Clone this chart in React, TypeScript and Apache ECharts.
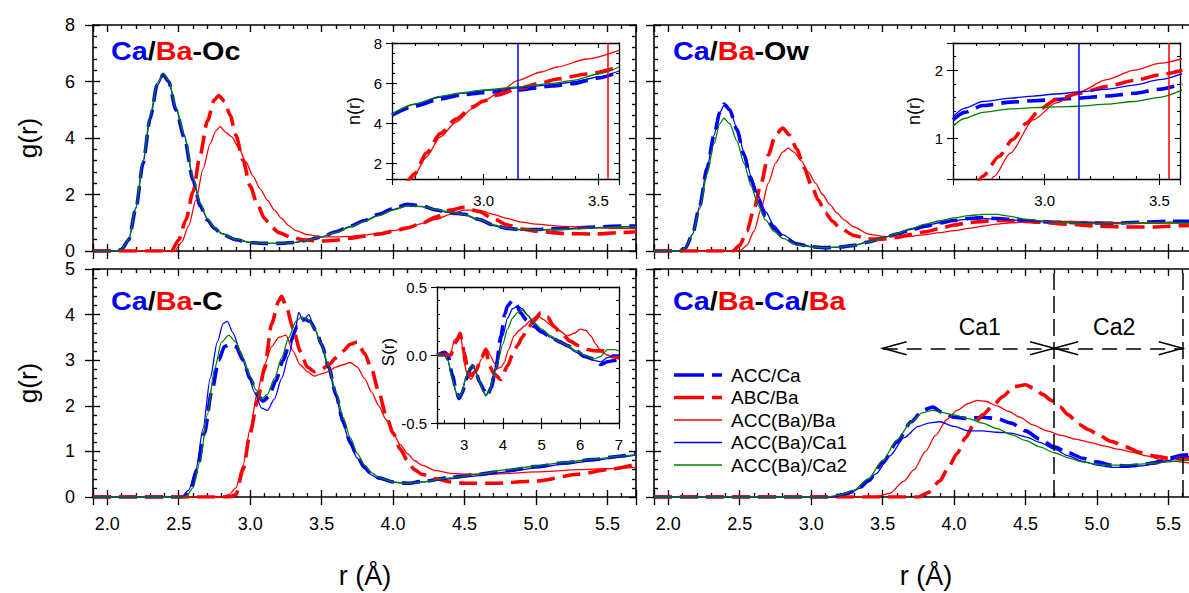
import React, { useEffect, useRef } from "react";
import * as echarts from "echarts";

const FONT = '"Liberation Sans", Arial, Helvetica, sans-serif';
const BLUE = "#0000ff";
const RED = "#ff0000";
const GREEN = "#008000";
const INK = "#000000";

const seriesNames = ["ACC/Ca", "ABC/Ba", "ACC(Ba)/Ba", "ACC(Ba)/Ca1", "ACC(Ba)/Ca2"];
const seriesColors = [BLUE, RED, RED, BLUE, GREEN];
const seriesDashed = [true, true, false, false, false];

// ---------- Panel Ca/Ba-Oc : g(r) ----------
const ocAccCaR = [1.9, 2.05, 2.1, 2.15, 2.2, 2.25, 2.3, 2.35, 2.39, 2.43, 2.48, 2.54, 2.6, 2.65, 2.7, 2.75, 2.8, 2.9, 3.0, 3.1, 3.2, 3.3, 3.4, 3.5, 3.6, 3.7, 3.8, 3.9, 4.0, 4.1, 4.2, 4.3, 4.4, 4.5, 4.6, 4.7, 4.8, 4.9, 5.0, 5.2, 5.4, 5.6, 5.7];
const ocAccCaG = [0, 0, 0.05, 0.4, 1.5, 3.1, 4.7, 5.9, 6.25, 6.0, 5.0, 4.0, 2.5, 1.6, 1.1, 0.8, 0.6, 0.4, 0.3, 0.27, 0.27, 0.3, 0.38, 0.5, 0.68, 0.88, 1.08, 1.3, 1.5, 1.65, 1.6, 1.45, 1.35, 1.3, 1.12, 0.92, 0.8, 0.76, 0.76, 0.8, 0.85, 0.88, 0.88];
const ocAbcBaR = [1.9, 2.45, 2.5, 2.55, 2.6, 2.65, 2.7, 2.75, 2.78, 2.82, 2.86, 2.9, 2.95, 3.0, 3.05, 3.1, 3.15, 3.2, 3.3, 3.4, 3.5, 3.6, 3.7, 3.8, 3.9, 4.0, 4.1, 4.2, 4.3, 4.4, 4.5, 4.6, 4.7, 4.8, 4.9, 5.0, 5.2, 5.4, 5.6, 5.7];
const ocAbcBaG = [0, 0, 0.4, 1.1, 2.1, 3.4, 4.6, 5.35, 5.5, 5.3, 4.8, 4.1, 3.2, 2.3, 1.65, 1.15, 0.85, 0.65, 0.45, 0.38, 0.35, 0.38, 0.45, 0.52, 0.6, 0.7, 0.82, 0.98, 1.2, 1.45, 1.55, 1.4, 1.15, 0.92, 0.78, 0.7, 0.62, 0.6, 0.65, 0.68];
const ocBaBaR = [1.9, 2.47, 2.52, 2.57, 2.62, 2.67, 2.72, 2.76, 2.79, 2.83, 2.87, 2.92, 2.97, 3.02, 3.07, 3.12, 3.17, 3.22, 3.27, 3.32, 3.4, 3.5, 3.6, 3.7, 3.8, 3.9, 4.0, 4.1, 4.2, 4.3, 4.4, 4.5, 4.6, 4.7, 4.8, 4.9, 5.0, 5.2, 5.4, 5.6, 5.7];
const ocBaBaG = [0, 0, 0.3, 0.9, 1.8, 2.9, 3.8, 4.25, 4.4, 4.2, 4.05, 3.65, 3.15, 2.65, 2.2, 1.8, 1.45, 1.15, 0.9, 0.72, 0.58, 0.5, 0.5, 0.52, 0.57, 0.63, 0.72, 0.83, 0.97, 1.12, 1.3, 1.45, 1.45, 1.3, 1.15, 1.02, 0.95, 0.87, 0.83, 0.8, 0.8];
const ocBaCa1G = [0, 0, 0.05, 0.4, 1.5, 3.1, 4.7, 5.85, 6.2, 6.0, 5.05, 4.05, 2.55, 1.65, 1.12, 0.82, 0.62, 0.42, 0.3, 0.27, 0.27, 0.3, 0.37, 0.5, 0.67, 0.87, 1.07, 1.28, 1.47, 1.6, 1.57, 1.45, 1.35, 1.28, 1.1, 0.9, 0.78, 0.75, 0.75, 0.78, 0.83, 0.86, 0.87];
const ocBaCa2G = [0, 0, 0.05, 0.4, 1.55, 3.2, 4.8, 5.95, 6.3, 6.05, 5.1, 4.1, 2.6, 1.7, 1.15, 0.83, 0.62, 0.42, 0.31, 0.27, 0.27, 0.3, 0.37, 0.5, 0.66, 0.85, 1.05, 1.25, 1.45, 1.6, 1.58, 1.47, 1.37, 1.3, 1.12, 0.93, 0.8, 0.76, 0.75, 0.77, 0.82, 0.85, 0.86];

// ---------- Panel Ca/Ba-Ow : g(r) ----------
const owCaR = [1.9, 2.08, 2.12, 2.17, 2.22, 2.27, 2.32, 2.36, 2.39, 2.43, 2.48, 2.53, 2.58, 2.63, 2.68, 2.74, 2.8, 2.9, 3.0, 3.1, 3.2, 3.3, 3.4, 3.5, 3.6, 3.7, 3.8, 3.9, 4.0, 4.1, 4.2, 4.3, 4.4, 4.5, 4.7, 4.9, 5.1, 5.3, 5.5, 5.7];
const owAccCaG = [0, 0, 0.1, 0.6, 1.6, 2.9, 4.1, 4.9, 5.2, 5.0, 4.3, 3.4, 2.5, 1.8, 1.25, 0.8, 0.5, 0.25, 0.15, 0.12, 0.14, 0.2, 0.32, 0.45, 0.6, 0.75, 0.88, 1.0, 1.08, 1.15, 1.18, 1.15, 1.12, 1.08, 1.02, 1.0, 0.98, 1.02, 1.05, 1.05];
const owBaCa1G = [0, 0, 0.1, 0.6, 1.6, 2.9, 4.1, 4.9, 5.15, 5.0, 4.35, 3.5, 2.65, 1.95, 1.4, 0.9, 0.58, 0.28, 0.16, 0.12, 0.14, 0.2, 0.33, 0.47, 0.62, 0.77, 0.9, 1.0, 1.08, 1.13, 1.15, 1.13, 1.1, 1.07, 1.02, 1.0, 0.98, 1.0, 1.02, 1.03];
const owBaCa2G = [0, 0, 0.1, 0.6, 1.5, 2.7, 3.8, 4.5, 4.7, 4.5, 3.9, 3.1, 2.3, 1.6, 1.1, 0.7, 0.45, 0.22, 0.14, 0.12, 0.14, 0.2, 0.32, 0.46, 0.62, 0.8, 0.95, 1.07, 1.17, 1.25, 1.3, 1.3, 1.22, 1.12, 1.02, 0.98, 0.96, 1.0, 1.0, 0.98];
const owAbcBaR = [1.9, 2.45, 2.5, 2.55, 2.6, 2.65, 2.7, 2.75, 2.8, 2.85, 2.9, 2.95, 3.0, 3.05, 3.1, 3.15, 3.2, 3.3, 3.4, 3.5, 3.6, 3.7, 3.8, 3.9, 4.0, 4.1, 4.2, 4.3, 4.4, 4.6, 4.8, 5.0, 5.2, 5.4, 5.6, 5.7];
const owAbcBaG = [0, 0, 0.2, 0.7, 1.5, 2.4, 3.4, 4.1, 4.35, 4.1, 3.6, 2.95, 2.35, 1.8, 1.35, 1.05, 0.82, 0.55, 0.42, 0.42, 0.48, 0.58, 0.68, 0.8, 0.92, 1.0, 1.05, 1.08, 1.08, 1.02, 0.95, 0.88, 0.85, 0.85, 0.9, 0.92];
const owBaBaR = [1.9, 2.5, 2.55, 2.6, 2.65, 2.7, 2.75, 2.8, 2.84, 2.88, 2.93, 2.98, 3.03, 3.08, 3.13, 3.18, 3.23, 3.3, 3.4, 3.5, 3.6, 3.7, 3.8, 3.9, 4.0, 4.1, 4.2, 4.3, 4.4, 4.6, 4.8, 5.0, 5.2, 5.4, 5.6, 5.7];
const owBaBaG = [0, 0, 0.2, 0.7, 1.5, 2.4, 3.1, 3.5, 3.64, 3.5, 3.2, 2.8, 2.4, 2.0, 1.65, 1.35, 1.1, 0.85, 0.6, 0.52, 0.5, 0.52, 0.58, 0.65, 0.72, 0.8, 0.88, 0.95, 1.0, 1.05, 1.05, 1.02, 1.0, 0.98, 1.0, 1.02];

// ---------- Panel Ca/Ba-C : g(r) ----------
const cAccCaR = [1.9, 2.53, 2.58, 2.63, 2.68, 2.73, 2.78, 2.82, 2.86, 2.9, 2.95, 3.0, 3.05, 3.09, 3.13, 3.18, 3.23, 3.28, 3.33, 3.38, 3.42, 3.46, 3.5, 3.55, 3.6, 3.65, 3.7, 3.75, 3.8, 3.85, 3.9, 4.0, 4.1, 4.2, 4.4, 4.6, 4.8, 5.0, 5.2, 5.4, 5.6, 5.7];
const cAccCaG = [0, 0, 0.15, 0.6, 1.4, 2.3, 3.0, 3.3, 3.35, 3.3, 3.0, 2.6, 2.25, 2.1, 2.2, 2.55, 3.0, 3.4, 3.75, 3.9, 3.85, 3.65, 3.35, 2.85, 2.25, 1.65, 1.2, 0.88, 0.65, 0.5, 0.42, 0.33, 0.3, 0.34, 0.43, 0.5, 0.58, 0.67, 0.75, 0.82, 0.9, 0.95];
const cAbcBaR = [1.9, 2.85, 2.9, 2.95, 3.0, 3.05, 3.1, 3.15, 3.2, 3.22, 3.25, 3.3, 3.35, 3.4, 3.45, 3.5, 3.55, 3.6, 3.65, 3.7, 3.75, 3.8, 3.85, 3.9, 3.95, 4.0, 4.05, 4.1, 4.15, 4.2, 4.3, 4.4, 4.5, 4.7, 5.0, 5.3, 5.5, 5.7];
const cAbcBaG = [0, 0, 0.05, 0.6, 1.4, 2.1, 2.8, 3.8, 4.3, 4.4, 4.2, 3.7, 3.2, 2.85, 2.75, 2.8, 2.9, 3.05, 3.2, 3.35, 3.4, 3.15, 2.8, 2.3, 1.8, 1.4, 1.05, 0.8, 0.6, 0.5, 0.4, 0.33, 0.3, 0.3, 0.35, 0.5, 0.6, 0.72];
const cBaBaR = [1.9, 2.8, 2.85, 2.9, 2.95, 3.0, 3.05, 3.1, 3.15, 3.2, 3.25, 3.3, 3.35, 3.4, 3.45, 3.5, 3.55, 3.6, 3.65, 3.7, 3.75, 3.8, 3.85, 3.9, 3.95, 4.0, 4.05, 4.1, 4.15, 4.2, 4.3, 4.4, 4.5, 4.7, 5.0, 5.3, 5.5, 5.7];
const cBaBaG = [0, 0, 0.05, 0.2, 0.7, 1.5, 2.3, 2.9, 3.3, 3.5, 3.55, 3.2, 2.9, 2.75, 2.65, 2.7, 2.75, 2.85, 2.9, 2.95, 2.85, 2.6, 2.3, 2.0, 1.7, 1.4, 1.15, 0.95, 0.8, 0.7, 0.58, 0.52, 0.5, 0.5, 0.55, 0.6, 0.62, 0.65];
const cBaCa1R = [1.9, 2.52, 2.57, 2.62, 2.67, 2.72, 2.77, 2.81, 2.84, 2.88, 2.93, 2.98, 3.03, 3.08, 3.12, 3.17, 3.22, 3.27, 3.31, 3.34, 3.37, 3.41, 3.45, 3.5, 3.55, 3.6, 3.65, 3.7, 3.75, 3.8, 3.85, 3.9, 4.0, 4.1, 4.2, 4.4, 4.6, 4.8, 5.0, 5.2, 5.4, 5.6, 5.7];
const cBaCa1G = [0, 0, 0.15, 0.6, 1.5, 2.6, 3.4, 3.8, 3.85, 3.6, 3.2, 2.75, 2.3, 1.95, 1.9, 2.15, 2.6, 3.1, 3.6, 4.05, 3.85, 4.0, 3.7, 3.3, 2.8, 2.2, 1.6, 1.15, 0.85, 0.62, 0.48, 0.4, 0.32, 0.3, 0.33, 0.4, 0.47, 0.55, 0.64, 0.72, 0.8, 0.88, 0.92];
const cBaCa2R = [1.9, 2.55, 2.6, 2.65, 2.7, 2.75, 2.8, 2.85, 2.9, 2.95, 3.0, 3.04, 3.08, 3.12, 3.17, 3.22, 3.27, 3.32, 3.36, 3.4, 3.45, 3.5, 3.55, 3.6, 3.65, 3.7, 3.75, 3.8, 3.85, 3.9, 4.0, 4.1, 4.2, 4.4, 4.6, 4.8, 5.0, 5.2, 5.4, 5.6, 5.7];
const cBaCa2G = [0, 0, 0.2, 0.8, 1.8, 2.8, 3.4, 3.55, 3.4, 3.05, 2.65, 2.35, 2.15, 2.25, 2.6, 3.05, 3.5, 3.85, 3.95, 3.9, 3.7, 3.35, 2.85, 2.3, 1.75, 1.3, 0.95, 0.7, 0.53, 0.43, 0.33, 0.3, 0.33, 0.42, 0.5, 0.6, 0.68, 0.76, 0.83, 0.9, 0.93];

// ---------- Panel Ca/Ba-Ca/Ba : g(r) ----------
const mmCaR = [1.9, 3.1, 3.2, 3.3, 3.4, 3.5, 3.6, 3.7, 3.78, 3.85, 3.92, 4.0, 4.1, 4.2, 4.3, 4.4, 4.5, 4.6, 4.7, 4.8, 4.9, 5.0, 5.1, 5.2, 5.3, 5.4, 5.5, 5.6, 5.7];
const mmAccCaG = [0, 0, 0.04, 0.12, 0.35, 0.75, 1.2, 1.65, 1.9, 1.97, 1.85, 1.75, 1.72, 1.75, 1.72, 1.62, 1.45, 1.27, 1.1, 0.97, 0.85, 0.77, 0.7, 0.68, 0.7, 0.75, 0.85, 0.92, 0.95];
const mmBaCa2G = [0, 0, 0.04, 0.15, 0.4, 0.8, 1.25, 1.65, 1.85, 1.9, 1.85, 1.8, 1.72, 1.62, 1.5, 1.37, 1.24, 1.1, 0.97, 0.86, 0.77, 0.72, 0.7, 0.7, 0.72, 0.74, 0.77, 0.8, 0.82];
const mmBaCa1R = [1.9, 3.15, 3.25, 3.35, 3.45, 3.55, 3.65, 3.75, 3.82, 3.9, 4.0, 4.1, 4.2, 4.3, 4.4, 4.5, 4.6, 4.7, 4.8, 4.9, 5.0, 5.1, 5.2, 5.3, 5.4, 5.5, 5.6, 5.7];
const mmBaCa1G = [0, 0, 0.05, 0.2, 0.5, 0.9, 1.3, 1.55, 1.62, 1.65, 1.55, 1.45, 1.45, 1.42, 1.4, 1.32, 1.2, 1.05, 0.9, 0.78, 0.7, 0.65, 0.65, 0.68, 0.72, 0.8, 0.88, 0.92];
const mmBaBaR = [1.9, 3.45, 3.55, 3.65, 3.72, 3.8, 3.87, 3.95, 4.02, 4.1, 4.16, 4.22, 4.3, 4.38, 4.46, 4.55, 4.65, 4.75, 4.85, 4.95, 5.05, 5.15, 5.25, 5.35, 5.45, 5.55, 5.65, 5.7];
const mmBaBaG = [0, 0, 0.08, 0.35, 0.6, 1.0, 1.35, 1.7, 1.9, 2.05, 2.12, 2.1, 2.0, 1.88, 1.75, 1.58, 1.45, 1.35, 1.27, 1.2, 1.12, 1.05, 0.98, 0.9, 0.82, 0.78, 0.75, 0.75];
const mmAbcBaR = [1.9, 3.75, 3.82, 3.9, 3.96, 4.02, 4.08, 4.14, 4.2, 4.27, 4.34, 4.42, 4.5, 4.56, 4.62, 4.68, 4.74, 4.8, 4.87, 4.94, 5.0, 5.1, 5.2, 5.3, 5.4, 5.5, 5.6, 5.7];
const mmAbcBaG = [0, 0, 0.1, 0.35, 0.65, 0.95, 1.3, 1.6, 1.8, 2.0, 2.2, 2.42, 2.46, 2.38, 2.25, 2.12, 1.98, 1.8, 1.6, 1.48, 1.38, 1.22, 1.1, 0.98, 0.9, 0.85, 0.85, 0.87];

// ---------- Inset n(r), Oc ----------
const nOcCaR = [2.6, 2.7, 2.81, 2.9, 3.0, 3.15, 3.3, 3.39, 3.5, 3.59];
const nOcAccCa = [4.39, 4.85, 5.2, 5.4, 5.52, 5.65, 5.85, 5.97, 6.25, 6.55];
const nOcBaCa1 = [4.45, 4.93, 5.3, 5.48, 5.62, 5.76, 5.92, 6.05, 6.3, 6.6];
const nOcBaCa2 = [4.45, 4.95, 5.33, 5.5, 5.65, 5.8, 5.98, 6.13, 6.45, 6.8];
const nOcAbcBaR = [2.66, 2.7, 2.75, 2.81, 2.88, 2.95, 3.0, 3.06, 3.15, 3.25, 3.32, 3.45, 3.59];
const nOcAbcBa = [0.9, 1.47, 2.5, 3.47, 4.2, 4.8, 5.1, 5.4, 5.72, 6.0, 6.2, 6.45, 6.8];
const nOcBaBaR = [2.66, 2.69, 2.75, 2.81, 2.88, 2.95, 3.0, 3.06, 3.15, 3.25, 3.32, 3.45, 3.59];
const nOcBaBa = [0.8, 1.23, 2.3, 3.3, 4.05, 4.72, 5.1, 5.47, 6.13, 6.55, 6.8, 7.2, 7.63];

// ---------- Inset n(r), Ow ----------
const nOwCaR = [2.6, 2.65, 2.73, 2.85, 2.95, 3.05, 3.15, 3.27, 3.39, 3.5, 3.6];
const nOwAccCa = [1.27, 1.38, 1.48, 1.53, 1.55, 1.57, 1.59, 1.62, 1.66, 1.72, 1.8];
const nOwBaCa1 = [1.32, 1.44, 1.54, 1.59, 1.62, 1.65, 1.68, 1.72, 1.78, 1.86, 1.95];
const nOwBaCa2 = [1.18, 1.29, 1.38, 1.43, 1.45, 1.46, 1.47, 1.5, 1.54, 1.6, 1.71];
const nOwAbcBaR = [2.7, 2.73, 2.8, 2.86, 2.92, 2.98, 3.05, 3.15, 3.27, 3.39, 3.5, 3.6];
const nOwAbcBa = [0.3, 0.44, 0.73, 0.98, 1.22, 1.43, 1.57, 1.66, 1.76, 1.85, 1.93, 2.0];
const nOwBaBaR = [2.75, 2.78, 2.85, 2.95, 3.05, 3.15, 3.27, 3.39, 3.5, 3.6];
const nOwBaBa = [0.3, 0.44, 0.78, 1.27, 1.52, 1.68, 1.86, 2.0, 2.1, 2.17];

// ---------- Inset S(r), C ----------
const sAccCaR = [2.3, 2.5, 2.58, 2.7, 2.8, 2.87, 2.95, 3.05, 3.17, 3.22, 3.3, 3.4, 3.52, 3.6, 3.7, 3.82, 3.95, 4.05, 4.12, 4.25, 4.35, 4.46, 4.6, 4.81, 5.0, 5.24, 5.45, 5.67, 5.9, 6.1, 6.35, 6.53, 6.7, 6.87, 7.0];
const sAccCa = [0, 0.02, 0.0, -0.15, -0.27, -0.32, -0.28, -0.18, -0.1, -0.08, -0.12, -0.2, -0.26, -0.3, -0.24, -0.1, 0.14, 0.3, 0.36, 0.4, 0.37, 0.31, 0.26, 0.21, 0.17, 0.13, 0.1, 0.07, 0.03, -0.01, -0.03, -0.07, -0.05, -0.04, -0.03];
const sCaR = [2.3, 2.48, 2.58, 2.7, 2.8, 2.87, 2.95, 3.05, 3.15, 3.22, 3.3, 3.4, 3.5, 3.56, 3.65, 3.75, 3.86, 4.0, 4.12, 4.25, 4.37, 4.5, 4.65, 4.8, 5.0, 5.24, 5.45, 5.67, 5.9, 6.1, 6.35, 6.53, 6.7, 6.87, 7.0];
const sBaCa1 = [0, 0, -0.04, -0.18, -0.28, -0.31, -0.27, -0.16, -0.09, -0.08, -0.12, -0.2, -0.27, -0.3, -0.26, -0.15, -0.02, 0.14, 0.27, 0.34, 0.36, 0.34, 0.29, 0.23, 0.18, 0.13, 0.09, 0.06, 0.02, -0.01, -0.04, -0.05, -0.02, 0.0, 0.0];
const sBaCa2 = [0, 0, -0.04, -0.18, -0.28, -0.31, -0.27, -0.16, -0.09, -0.08, -0.12, -0.2, -0.27, -0.3, -0.27, -0.17, -0.06, 0.08, 0.19, 0.27, 0.31, 0.33, 0.29, 0.24, 0.19, 0.14, 0.1, 0.07, 0.03, 0.0, -0.03, -0.01, 0.04, 0.04, 0.03];
const sBaBaR = [2.3, 2.66, 2.7, 2.74, 2.8, 2.86, 2.91, 2.96, 3.0, 3.08, 3.17, 3.3, 3.45, 3.56, 3.62, 3.69, 3.78, 3.86, 3.95, 4.03, 4.15, 4.29, 4.42, 4.55, 4.7, 4.89, 5.05, 5.24, 5.45, 5.67, 5.85, 6.0, 6.15, 6.27, 6.4, 6.53, 6.7, 6.85, 7.0];
const sBaBa = [0, 0, 0.06, 0.11, 0.12, 0.14, 0.16, 0.05, -0.06, -0.14, -0.18, -0.13, -0.03, 0.05, 0.03, -0.01, -0.06, -0.1, -0.09, -0.06, 0.04, 0.14, 0.18, 0.21, 0.25, 0.29, 0.26, 0.22, 0.18, 0.14, 0.16, 0.19, 0.18, 0.14, 0.08, 0.03, 0.0, -0.02, -0.03];
const sAbcBaR = [2.3, 2.66, 2.74, 2.8, 2.9, 2.95, 3.0, 3.08, 3.17, 3.3, 3.45, 3.56, 3.65, 3.78, 3.95, 4.12, 4.25, 4.38, 4.5, 4.63, 4.8, 4.98, 5.15, 5.32, 5.5, 5.75, 5.95, 6.18, 6.4, 6.6, 6.8, 7.0];
const sAbcBa = [0, 0, 0.07, 0.1, 0.16, 0.08, 0.02, -0.08, -0.15, -0.12, -0.02, 0.04, -0.08, -0.14, -0.18, -0.08, 0.0, 0.07, 0.13, 0.19, 0.25, 0.31, 0.28, 0.21, 0.16, 0.1, 0.07, 0.04, 0.03, 0.03, -0.01, -0.02];

// ---------- Annotations (data coordinates) ----------
const nCutCa = 3.15;
const nCutBa = 3.54;
const shellCuts = [4.7, 5.6];
const shellArrowY = 3.26;
const shellSpans = [[3.5, 4.7], [4.7, 5.6]];
const shellLabels = ["Ca1", "Ca2"];
const shellLabelX = [4.18, 5.12];
const shellLabelY = 3.73;

// Panel order: Oc, Ow, C, Ca/Ba, n(r) Oc, n(r) Ow, S(r)
const panelSets: number[][][][] = [
  [[ocAccCaR, ocAccCaG], [ocAbcBaR, ocAbcBaG], [ocBaBaR, ocBaBaG], [ocAccCaR, ocBaCa1G], [ocAccCaR, ocBaCa2G]],
  [[owCaR, owAccCaG], [owAbcBaR, owAbcBaG], [owBaBaR, owBaBaG], [owCaR, owBaCa1G], [owCaR, owBaCa2G]],
  [[cAccCaR, cAccCaG], [cAbcBaR, cAbcBaG], [cBaBaR, cBaBaG], [cBaCa1R, cBaCa1G], [cBaCa2R, cBaCa2G]],
  [[mmCaR, mmAccCaG], [mmAbcBaR, mmAbcBaG], [mmBaBaR, mmBaBaG], [mmBaCa1R, mmBaCa1G], [mmCaR, mmBaCa2G]],
  [[nOcCaR, nOcAccCa], [nOcAbcBaR, nOcAbcBa], [nOcBaBaR, nOcBaBa], [nOcCaR, nOcBaCa1], [nOcCaR, nOcBaCa2]],
  [[nOwCaR, nOwAccCa], [nOwAbcBaR, nOwAbcBa], [nOwBaBaR, nOwBaBa], [nOwCaR, nOwBaCa1], [nOwCaR, nOwBaCa2]],
  [[sAccCaR, sAccCa], [sAbcBaR, sAbcBa], [sBaBaR, sBaBa], [sCaR, sBaCa1], [sCaR, sBaCa2]],
];

function isMult(v: number, step: number) {
  const q = v / step;
  return Math.abs(q - Math.round(q)) < 1e-6;
}

type GridSpec = {
  left: number; top: number; width: number; height: number;
  xMin: number; xMax: number; yMin: number; yMax: number;
  xSplit: number; ySplit: number; xMinor: number; yMinor: number;
  xLabels: boolean; yLabels: boolean;
  xFmt: (v: number) => string; yFmt: (v: number) => string;
  inset: boolean;
};

const fmtHalf = (v: number) => (isMult(v, 0.5) ? v.toFixed(1) : "");
const fmtInt = (v: number) => (isMult(v, 1) ? String(Math.round(v)) : "");
const fmtEven = (v: number) => (isMult(v, 2) ? String(Math.round(v)) : "");

const grids: GridSpec[] = [
  { left: 93, top: 25, width: 543, height: 226, xMin: 1.9, xMax: 5.7, yMin: 0, yMax: 8, xSplit: 8, ySplit: 4, xMinor: 5, yMinor: 5, xLabels: false, yLabels: true, xFmt: fmtHalf, yFmt: fmtInt, inset: false },
  { left: 654, top: 25, width: 543, height: 226, xMin: 1.9, xMax: 5.7, yMin: 0, yMax: 8, xSplit: 8, ySplit: 4, xMinor: 5, yMinor: 5, xLabels: false, yLabels: false, xFmt: fmtHalf, yFmt: fmtInt, inset: false },
  { left: 93, top: 269, width: 543, height: 228, xMin: 1.9, xMax: 5.7, yMin: 0, yMax: 5, xSplit: 8, ySplit: 5, xMinor: 5, yMinor: 5, xLabels: true, yLabels: true, xFmt: fmtHalf, yFmt: fmtInt, inset: false },
  { left: 654, top: 269, width: 543, height: 228, xMin: 1.9, xMax: 5.7, yMin: 0, yMax: 5, xSplit: 8, ySplit: 5, xMinor: 5, yMinor: 5, xLabels: true, yLabels: false, xFmt: fmtHalf, yFmt: fmtInt, inset: false },
  { left: 392, top: 43, width: 227, height: 136, xMin: 2.6, xMax: 3.59, yMin: 1.2, yMax: 8, xSplit: 2, ySplit: 4, xMinor: 5, yMinor: 4, xLabels: true, yLabels: true, xFmt: fmtHalf, yFmt: fmtEven, inset: true },
  { left: 953, top: 43, width: 227, height: 136, xMin: 2.6, xMax: 3.59, yMin: 0.4, yMax: 2.4, xSplit: 2, ySplit: 2, xMinor: 5, yMinor: 5, xLabels: true, yLabels: true, xFmt: fmtHalf, yFmt: fmtInt, inset: true },
  { left: 437, top: 287, width: 182, height: 136, xMin: 2.3, xMax: 7, yMin: -0.5, yMax: 0.5, xSplit: 5, ySplit: 2, xMinor: 2, yMinor: 5, xLabels: true, yLabels: true, xFmt: fmtInt, yFmt: fmtHalf, inset: true },
];

function buildAxes(g: GridSpec, gi: number) {
  const lw = g.inset ? 1.3 : 1.6;
  const tickOut = g.inset ? 6 : 8;
  const tickIn = g.inset ? 5 : 7;
  const minorLen = g.inset ? 3 : 4;
  const fs = g.inset ? 15 : 18;
  const ls = { color: INK, width: lw };
  const tls = { color: INK, width: lw * 0.85 };
  const label = (show: boolean, fmt: (v: number) => string, margin: number) => ({
    show, margin, formatter: fmt, color: INK, fontSize: fs, fontFamily: FONT,
    showMinLabel: true, showMaxLabel: true,
  });
  const xBase = { type: "value", gridIndex: gi, min: g.xMin, max: g.xMax, splitNumber: g.xSplit, splitLine: { show: false }, axisPointer: { show: false } };
  const yBase = { type: "value", gridIndex: gi, min: g.yMin, max: g.yMax, splitNumber: g.ySplit, splitLine: { show: false }, axisPointer: { show: false } };
  const xs = [
    { ...xBase, position: "bottom", axisLine: { show: true, onZero: false, lineStyle: ls }, axisTick: { show: true, inside: false, length: tickOut, lineStyle: tls }, minorTick: { show: false }, axisLabel: label(g.xLabels, g.xFmt, g.inset ? 14 : 18) },
    { ...xBase, position: "bottom", axisLine: { show: false, onZero: false }, axisTick: { show: true, inside: true, length: tickIn, lineStyle: tls }, minorTick: { show: true, splitNumber: g.xMinor, length: minorLen, lineStyle: tls }, axisLabel: { show: false } },
    { ...xBase, position: "top", axisLine: { show: true, onZero: false, lineStyle: ls }, axisTick: { show: true, inside: true, length: tickIn, lineStyle: tls }, minorTick: { show: true, splitNumber: g.xMinor, length: minorLen, lineStyle: tls }, axisLabel: { show: false } },
  ];
  const ys = [
    { ...yBase, position: "left", axisLine: { show: true, onZero: false, lineStyle: ls }, axisTick: { show: true, inside: false, length: tickOut, lineStyle: tls }, minorTick: { show: false }, axisLabel: label(g.yLabels, g.yFmt, g.inset ? 10 : 18) },
    { ...yBase, position: "left", axisLine: { show: false, onZero: false }, axisTick: { show: true, inside: true, length: tickIn, lineStyle: tls }, minorTick: { show: true, splitNumber: g.yMinor, length: minorLen, lineStyle: tls }, axisLabel: { show: false } },
    { ...yBase, position: "right", axisLine: { show: true, onZero: false, lineStyle: ls }, axisTick: { show: true, inside: true, length: tickIn, lineStyle: tls }, minorTick: { show: true, splitNumber: g.yMinor, length: minorLen, lineStyle: tls }, axisLabel: { show: false } },
  ];
  return { xs, ys };
}

const THICK = 3.6;
const THIN = 1.3;
const PLOT_DASH = [18, 8];

function makeSeries(p: number, s: number) {
  const [rs, vs] = panelSets[p][s];
  const dashed = seriesDashed[s];
  const color = seriesColors[s];
  return {
    type: "line",
    name: seriesNames[s],
    xAxisIndex: p * 3,
    yAxisIndex: p * 3,
    data: rs.map((r, i) => [r, vs[i]]),
    showSymbol: false,
    symbol: "none",
    smooth: 0.25,
    smoothMonotone: "x",
    color,
    itemStyle: { color },
    lineStyle: dashed ? { color, width: THICK, type: PLOT_DASH } : { color, width: THIN, type: "solid" },
    silent: true,
    animation: false,
  } as any;
}

function richTitle(text: string) {
  const base = { fontSize: 25, fontWeight: "bold", fontFamily: FONT };
  return {
    text,
    ...base,
    fill: INK,
    align: "left",
    verticalAlign: "middle",
    rich: {
      b: { ...base, fill: BLUE, color: BLUE },
      r: { ...base, fill: RED, color: RED },
      k: { ...base, fill: INK, color: INK },
    },
  };
}

function textEl(id: string, x: number, y: number, text: string, fontSize: number, rotate = 0, align = "center") {
  return {
    type: "text", id, x, y, rotation: rotate, silent: true,
    style: { text, fontSize, fontFamily: FONT, fill: INK, align, verticalAlign: "middle" },
  };
}

function legendEls() {
  const els: any[] = [];
  const x0 = 674;
  const x1 = 722;
  const y0 = 375;
  const step = 22.5;
  seriesNames.forEach((name, i) => {
    const y = y0 + i * step;
    const dashed = seriesDashed[i];
    els.push({
      type: "line", id: "lg-l" + i, silent: true,
      shape: { x1: x0, y1: y, x2: x1, y2: y },
      style: { stroke: seriesColors[i], lineWidth: dashed ? THICK : THIN, lineDash: dashed ? [30, 8] : null },
    });
    els.push(textEl("lg-t" + i, 731, y, name, 19, 0, "left"));
  });
  return els;
}

function buildOption() {
  const xAxis: any[] = [];
  const yAxis: any[] = [];
  grids.forEach((g, gi) => {
    const { xs, ys } = buildAxes(g, gi);
    xAxis.push(...xs);
    yAxis.push(...ys);
  });
  const series: any[] = [];
  for (let p = 0; p < panelSets.length; p++) {
    for (let s = 0; s < 5; s++) series.push(makeSeries(p, s));
  }
  // vertical cut-off lines in the n(r) insets
  [4, 5].forEach((p) => {
    const first = series[p * 5];
    first.markLine = {
      silent: true, symbol: "none", animation: false, label: { show: false },
      data: [
        { xAxis: nCutCa, lineStyle: { color: BLUE, width: 1.5, type: "solid" } },
        { xAxis: nCutBa, lineStyle: { color: RED, width: 1.5, type: "solid" } },
      ],
    };
  });
  // shell boundaries and arrows in the Ca/Ba-Ca/Ba panel
  const mm = series[3 * 5 + 4];
  mm.markLine = {
    silent: true, symbol: "none", animation: false, label: { show: false },
    data: [
      ...shellCuts.map((c) => ({ xAxis: c, lineStyle: { color: INK, width: 1.5, type: [17, 6] } })),
      ...shellSpans.map((sp) => [
        { coord: [sp[0], shellArrowY], lineStyle: { color: INK, width: 1.5, type: [15, 9] } },
        { coord: [sp[1], shellArrowY] },
      ]),
    ],
  };

  const grid = grids.map((g) => ({
    left: g.left, top: g.top, width: g.width, height: g.height,
    containLabel: false, outerBoundsMode: "none", show: false,
  }));

  const graphicEls: any[] = [
    { type: "text", id: "t-oc", x: 111, y: 52, scaleX: 1.15, silent: true, style: richTitle("{b|Ca}{k|/}{r|Ba}{k|-Oc}") },
    { type: "text", id: "t-ow", x: 673, y: 52, scaleX: 1.15, silent: true, style: richTitle("{b|Ca}{k|/}{r|Ba}{k|-Ow}") },
    { type: "text", id: "t-c", x: 111, y: 302, scaleX: 1.15, silent: true, style: richTitle("{b|Ca}{k|/}{r|Ba}{k|-C}") },
    { type: "text", id: "t-mm", x: 673, y: 302, scaleX: 1.15, silent: true, style: richTitle("{b|Ca}{k|/}{r|Ba}{k|-}{b|Ca}{k|/}{r|Ba}") },
    textEl("gy1", 28, 138, "g(r)", 26, Math.PI / 2),
    textEl("gy2", 28, 383, "g(r)", 26, Math.PI / 2),
    textEl("rx1", 365, 576, "r (Å)", 27),
    textEl("rx2", 926, 576, "r (Å)", 27),
    textEl("n1", 354, 111, "n(r)", 18, Math.PI / 2),
    textEl("n2", 914, 111, "n(r)", 18, Math.PI / 2),
    textEl("s1", 388, 352, "S(r)", 17, Math.PI / 2),
    ...legendEls(),
  ];

  return {
    animation: false,
    backgroundColor: "#ffffff",
    textStyle: { fontFamily: FONT },
    grid,
    xAxis,
    yAxis,
    series,
    graphic: { elements: graphicEls },
  };
}

export default function App() {
  const ref = useRef<HTMLDivElement>(null);
  useEffect(() => {
    if (!ref.current) return;
    const chart = echarts.init(ref.current, null, { renderer: "svg" });
    chart.setOption(buildOption() as any);
    // arrow heads and shell labels positioned through the axis scales
    const finder = { xAxisIndex: 9, yAxisIndex: 9 };
    const extra: any[] = [];
    const head = 24;
    const half = 6.5;
    shellSpans.forEach((sp, i) => {
      const a = chart.convertToPixel(finder as any, [sp[0], shellArrowY]) as number[];
      const b = chart.convertToPixel(finder as any, [sp[1], shellArrowY]) as number[];
      extra.push({
        type: "polyline", id: "ah-l" + i, silent: true,
        shape: { points: [[a[0] + head, a[1] - half], [a[0], a[1]], [a[0] + head, a[1] + half]] },
        style: { stroke: INK, lineWidth: 1.5, fill: null },
      });
      extra.push({
        type: "polyline", id: "ah-r" + i, silent: true,
        shape: { points: [[b[0] - head, b[1] - half], [b[0], b[1]], [b[0] - head, b[1] + half]] },
        style: { stroke: INK, lineWidth: 1.5, fill: null },
      });
      const t = chart.convertToPixel(finder as any, [shellLabelX[i], shellLabelY]) as number[];
      extra.push(textEl("shell" + i, t[0], t[1], shellLabels[i], 23));
    });
    chart.setOption({ graphic: { elements: extra } } as any);
    return () => chart.dispose();
  }, []);
  return (
    <div
      ref={ref}
      style={{ position: "fixed", left: 0, top: 0, width: 1189, height: 593, background: "#fff" }}
    />
  );
}
